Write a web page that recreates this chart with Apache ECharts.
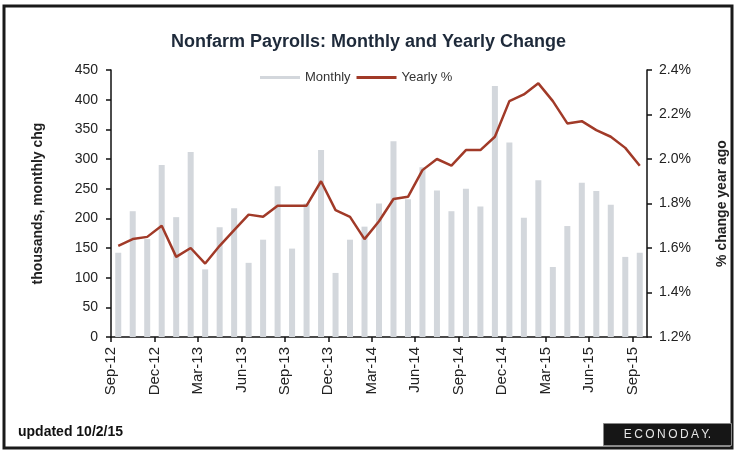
<!DOCTYPE html>
<html>
<head>
<meta charset="utf-8">
<script src="https://cdn.jsdelivr.net/npm/echarts@6/dist/echarts.min.js"></script>
<style>
  html, body { margin: 0; padding: 0; background: #fff; }
  #main { width: 737px; height: 453px; }
</style>
</head>
<body>
<div id="main"></div>
<script>
// months Sep-12 .. Sep-15
var months = ['Sep-12','Oct-12','Nov-12','Dec-12','Jan-13','Feb-13','Mar-13','Apr-13','May-13',
  'Jun-13','Jul-13','Aug-13','Sep-13','Oct-13','Nov-13','Dec-13','Jan-14','Feb-14','Mar-14',
  'Apr-14','May-14','Jun-14','Jul-14','Aug-14','Sep-14','Oct-14','Nov-14','Dec-14','Jan-15',
  'Feb-15','Mar-15','Apr-15','May-15','Jun-15','Jul-15','Aug-15','Sep-15'];

// thousands, monthly change
var monthly = [142, 212, 165, 290, 202, 312, 114, 185, 217,
  125, 164, 254, 149, 225, 315, 108, 164, 186, 225,
  330, 232, 286, 247, 212, 250, 220, 423, 328, 201,
  264, 118, 187, 260, 246, 223, 135, 142];

// % change year ago
var yearly = [1.61, 1.64, 1.65, 1.70, 1.56, 1.60, 1.53, 1.61, 1.68,
  1.75, 1.74, 1.79, 1.79, 1.79, 1.90, 1.77, 1.74, 1.64, 1.72,
  1.82, 1.83, 1.95, 2.00, 1.97, 2.04, 2.04, 2.10, 2.26, 2.29,
  2.34, 2.26, 2.16, 2.17, 2.13, 2.10, 2.05, 1.97];

var chart = echarts.init(document.getElementById('main'));
var txt = '#222';
var font = '"Liberation Sans", Arial, sans-serif';

var option = {
  backgroundColor: '#fff',
  animation: false,
  textStyle: { fontFamily: font },
  title: {
    text: 'Nonfarm Payrolls: Monthly and Yearly Change',
    left: 'center',
    top: 28,
    textStyle: { fontSize: 18, fontWeight: 'bold', color: '#1e2a3a', fontFamily: font }
  },
  legend: {
    top: 66,
    left: 255,
    itemGap: 6,
    itemWidth: 40,
    itemHeight: 3,
    textStyle: { fontSize: 13, color: '#333', fontFamily: font },
    data: [
      { name: 'Monthly', icon: 'rect' },
      { name: 'Yearly %', icon: 'rect' }
    ]
  },
  grid: { left: 111, right: 89, top: 70, bottom: 116 },
  xAxis: [
    {
      type: 'category',
      data: months,
      position: 'top',
      boundaryGap: true,
      axisLine: { show: false },
      axisTick: { show: false },
      axisLabel: { show: false }
    },
    {
      type: 'value',
      position: 'bottom',
      min: 0,
      max: months.length,
      interval: 3,
      splitLine: { show: false },
      axisLine: { show: true, lineStyle: { color: '#111', width: 1.5 } },
      axisTick: { show: true, length: 5, lineStyle: { color: '#111', width: 1.5 } },
      axisLabel: {
        rotate: 90,
        fontSize: 15,
        color: txt,
        margin: 10,
        showMaxLabel: false,
        formatter: function (v) {
          return v < months.length ? months[v] : '';
        }
      }
    }
  ],
  yAxis: [
    {
      type: 'value',
      min: 0,
      max: 450,
      interval: 50,
      name: 'thousands, monthly chg',
      nameLocation: 'middle',
      nameGap: 66,
      nameTextStyle: { fontSize: 14, fontWeight: 'bold', color: txt },
      splitLine: { show: false },
      axisLine: { show: true, lineStyle: { color: '#111', width: 1.5 } },
      axisTick: { show: true, length: 5, lineStyle: { color: '#111', width: 1.5 } },
      axisLabel: { fontSize: 14, color: txt, margin: 13 }
    },
    {
      type: 'value',
      min: 1.2,
      max: 2.4,
      interval: 0.2,
      position: 'right',
      name: '% change year ago',
      nameLocation: 'middle',
      nameGap: 68,
      nameRotate: 90,
      nameTextStyle: { fontSize: 14, fontWeight: 'bold', color: txt },
      splitLine: { show: false },
      axisLine: { show: true, lineStyle: { color: '#111', width: 1.5 } },
      axisTick: { show: true, length: 5, lineStyle: { color: '#111', width: 1.5 } },
      axisLabel: {
        fontSize: 14,
        color: txt,
        margin: 12,
        formatter: function (v) { return v.toFixed(1) + '%'; }
      }
    }
  ],
  series: [
    {
      name: 'Monthly',
      type: 'bar',
      xAxisIndex: 0,
      yAxisIndex: 0,
      data: monthly,
      barWidth: 6,
      itemStyle: { color: '#d3d7dc' }
    },
    {
      name: 'Yearly %',
      type: 'line',
      xAxisIndex: 0,
      yAxisIndex: 1,
      data: yearly,
      symbol: 'none',
      lineStyle: { color: '#a13a28', width: 2.5 },
      itemStyle: { color: '#a13a28' }
    }
  ],
  graphic: [
    {
      type: 'rect',
      shape: { x: 4, y: 6, width: 728, height: 442 },
      style: { fill: 'none', stroke: '#1a1a1a', lineWidth: 3 },
      silent: true
    },
    {
      type: 'text',
      left: 18,
      top: 425,
      style: { text: 'updated 10/2/15', font: 'bold 14px ' + font, fill: '#111' }
    },
    {
      type: 'group',
      left: 603,
      top: 423,
      children: [
        {
          type: 'rect',
          shape: { x: 0, y: 0, width: 128, height: 22 },
          style: { fill: '#161616', stroke: '#888', lineWidth: 1 }
        },
        {
          type: 'text',
          x: 64,
          y: 11,
          style: {
            text: 'E\u2009C\u2009O\u2009N\u2009O\u2009D\u2009A\u2009Y.',
            font: '12px ' + font,
            fill: '#e6e6e6',
            align: 'center',
            verticalAlign: 'middle'
          }
        }
      ]
    }
  ]
};

chart.setOption(option);
</script>
</body>
</html>
